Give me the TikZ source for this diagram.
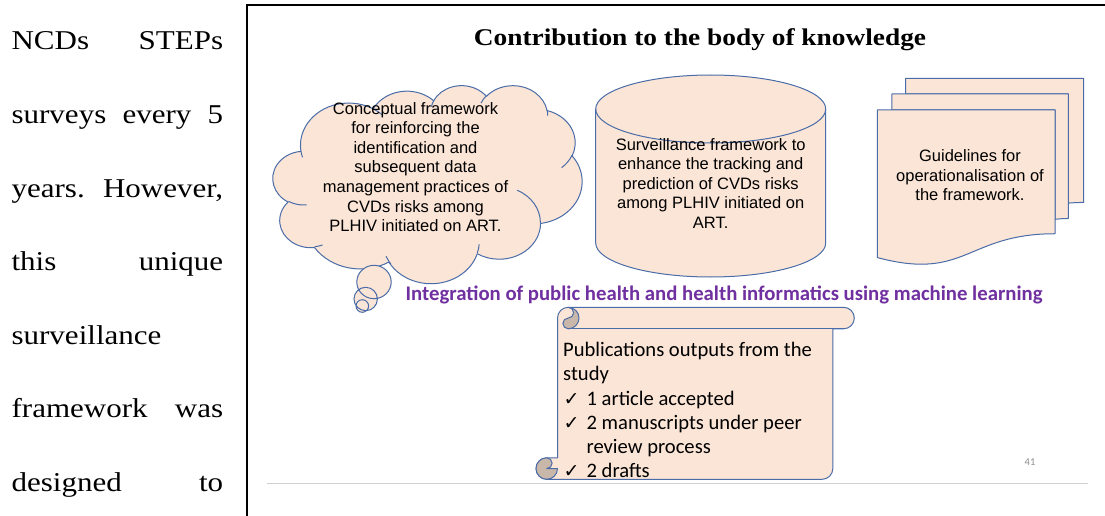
\documentclass[tikz,border=0pt]{standalone}
\usepackage{fontspec}
\setmainfont{Liberation Serif}
\newfontfamily\arialf{Liberation Sans}
\newfontfamily\calf{Carlito}
\newfontfamily\djv{DejaVu Sans}
\usepackage{graphicx}
\definecolor{shfill}{HTML}{FBE5D6}
\definecolor{shline}{HTML}{4A6CA8}
\definecolor{shdark}{HTML}{C9B7AA}
\definecolor{purp}{HTML}{7030A0}
\definecolor{rulegray}{HTML}{D0D0D0}
\definecolor{pgnum}{HTML}{8C8C8C}
\newcommand\ck{\makebox[23.4pt][l]{\hspace{0.5pt}{\djv\fontsize{19}{19}\selectfont ✓}}}
\tikzset{
  declare function={
    vp(\a,\b,\t)=atan2(\a*sin(\t),\b*cos(\t));
    dlt(\a,\b,\s,\w)=mod(vp(\a,\b,\s+\w)-vp(\a,\b,\s)+720,360)-(\w<0)*360;
  },
  ooarc/.style n args={4}{insert path={arc[x radius=#1, y radius=#2, start angle={vp(#1,#2,#3)}, delta angle={dlt(#1,#2,#3,#4)}]}},
  shp/.style={fill=shfill, draw=shline, line width=1pt, line join=round},
  shl/.style={draw=shline, line width=1pt},
  shtext/.style={font=\arialf\fontsize{16.5}{19.6}\selectfont, inner sep=0pt, anchor=base},
  leftline/.style={anchor=base west, inner sep=0pt, font=\fontsize{27.2}{30}\selectfont},
}
\begin{document}
\begin{tikzpicture}[x=1pt, y=-1pt]
\useasboundingbox (0,0) rectangle (1105,516);
\fill[white] (0,0) rectangle (1105,516);

% left column text
\node[leftline] (l1) at (11.4,50) {\scalebox{1.14}[1]{\makebox[185.6pt][l]{NCDs\hfill STEPs}}};
\node[leftline] (l2) at (11.4,123.5) {\scalebox{1.14}[1]{\makebox[185.6pt][l]{surveys\hfill every\hfill 5}}};
\node[leftline] (l3) at (11.4,197) {\scalebox{1.14}[1]{\makebox[185.6pt][l]{years.\hfill However,}}};
\node[leftline] (l4) at (11.4,270.5) {\scalebox{1.14}[1]{\makebox[185.6pt][l]{this\hfill unique}}};
\node[leftline] (l5) at (11.4,344) {\scalebox{1.14}[1]{surveillance}};
\node[leftline] (l6) at (11.4,417.5) {\scalebox{1.14}[1]{\makebox[185.6pt][l]{framework\hfill was}}};
\node[leftline] (l7) at (11.4,491) {\scalebox{1.14}[1]{\makebox[185.6pt][l]{designed\hfill to}}};

% slide frame
\draw[line width=2.2pt] (247,516) -- (247,5.3) -- (1105,5.3);
\draw[rulegray, line width=1.2pt] (267.3,483.3) -- (1088.3,483.3);

% title
\node[anchor=base, inner sep=0pt] (title) at (700,45.5) {\fontsize{24}{28}\selectfont\bfseries\scalebox{1.14}[1]{Contribution to the body of knowledge}};

% cloud callout
\fill[shfill] (374,282) circle[x radius=17.2, y radius=16.7] (365.7,299) circle[radius=11.7] (362.3,306) circle[radius=6.3];
\begin{scope}[shift={(273,85)}, x=0.0715278pt, y=-0.0458333pt]
  \path[shp] (390,1437)
    [ooarc={675.3}{919.0}{-190.4875}{123.7805}]
    [ooarc={533.3}{726.7}{-144.1024}{89.9452}]
    [ooarc={436.5}{594.5}{-145.8079}{99.7230}]
    [ooarc={485.7}{659.5}{-130.9861}{117.2417}]
    [ooarc={533.3}{727.3}{-78.7089}{109.0269}]
    [ooarc={677.5}{922.0}{-46.2673}{130.2690}]
    [ooarc={578.5}{786.7}{0.6250}{114.0333}]
    [ooarc={675.2}{921.5}{22.4636}{120.2935}]
    [ooarc={772.0}{1054.3}{66.2426}{71.33}]
    [ooarc={436.0}{591.8}{-274.9421}{146.7356}]
    [ooarc={434.5}{594.5}{-246.8285}{152.5189}]
    -- cycle;
  \path[shl] (469.3,2617.7) [ooarc={434.5}{594.5}{86.7420}{26.4295}]
    (692.8,3489.9) [ooarc={436.0}{591.8}{73.6105}{11.4475}]
    (1647.8,3909.0) [ooarc={675.2}{921.5}{137.6242}{14.0811}]
    (2882.7,3475.1) [ooarc={675.2}{921.5}{6.4533}{15.9984}]
    (3412.9,2295.4) [ooarc={578.5}{786.7}{-70.2924}{70.9174}]
    (4179.8,1535.4) [ooarc={533.3}{727.3}{30.3180}{27.7515}]
    (3832.4,542.6) [ooarc={485.7}{659.5}{-13.7443}{14.8589}]
    (2907.8,395.2) [ooarc={485.7}{659.5}{-149.1815}{18.1954}]
    (2214.1,472.0) [ooarc={436.5}{594.5}{-163.4943}{17.6864}]
    (1400.0,519.2) [ooarc={675.3}{919.0}{-66.7070}{12.3194}]
    (412.7,1578.9) [ooarc={675.3}{919.0}{157.6544}{11.8582}];
\end{scope}
\fill[shfill] (374,282) circle[x radius=17.2, y radius=16.7] (365.7,299) circle[radius=11.7] (362.3,306) circle[radius=6.3];
\draw[shl] (374,282) circle[x radius=17.2, y radius=16.7] (365.7,299) circle[radius=11.7] (362.3,306) circle[radius=6.3];

% cylinder
\path[shp] (595.7,109) -- (595.7,243) arc[start angle=180, end angle=0, x radius=115, y radius=34]
  -- (825.7,109) arc[start angle=0, end angle=-180, x radius=115, y radius=34] -- cycle;
\path[shl] (595.7,109) arc[start angle=180, end angle=0, x radius=115, y radius=34];

% multidocument
\path[shp] (905.70,93.95) -- (905.70,78.3) -- (1083.71,78.3) -- (1083.71,202.43)
  .. controls (1076.06,202.43) and (1068.42,203.08) .. (1068.42,203.08) -- (1068.42,93.95) -- cycle;
\path[shp] (891.94,110.0) -- (891.94,93.95) -- (1068.42,93.95) -- (1068.42,218.47)
  .. controls (1061.71,218.47) and (1054.99,219.34) .. (1054.99,219.34) -- (1054.99,110.0) -- cycle;
\path[shp] (877.3,257.55) .. controls (966.15,281.35) and (966.15,233.74) .. (1054.99,233.74)
  -- (1054.99,110.0) -- (877.3,110.0) -- cycle;

% horizontal scroll
\path[shp] (557.5,318.05) arc[start angle=180, end angle=270, radius=10.75]
  -- (843.55,307.3) arc[start angle=270, end angle=450, radius=10.75]
  -- (832.8,328.8) -- (832.8,468.55) arc[start angle=0, end angle=90, radius=10.75]
  -- (546.75,479.3) arc[start angle=90, end angle=270, radius=10.75]
  -- (557.5,457.8) -- cycle;
\path[shl] (568.25,328.8) -- (843.55,328.8);
\path[shp, fill=shdark] (568.25,307.3) arc[start angle=270, end angle=450, radius=10.75]
  arc[start angle=90, end angle=270, radius=5.375]
  arc[start angle=90, end angle=-90, radius=5.375] -- cycle;
\path[shp, fill=shdark] (557.5,468.55) arc[start angle=0, end angle=270, radius=10.75]
  arc[start angle=270, end angle=450, radius=5.375] -- cycle;

% texts in shapes
\node[shtext] (cloudtxt) at (415.5,114) {\begin{tabular}[t]{@{}c@{}}Conceptual framework\\ for reinforcing the\\ identification and\\ subsequent data\\ management practices of\\ CVDs risks among\\ PLHIV initiated on ART.\end{tabular}};
\node[shtext] (cantxt) at (710.7,150) {\begin{tabular}[t]{@{}c@{}}Surveillance framework to\\ enhance the tracking and\\ prediction of CVDs risks\\ among PLHIV initiated on\\ ART.\end{tabular}};
\node[shtext] (doctxt) at (970,161.7) {\begin{tabular}[t]{@{}c@{}}Guidelines for\\ operationalisation of\\ the framework.\end{tabular}};

\node[anchor=base west, inner sep=0pt, font=\calf\bfseries\fontsize{20.75}{24}\selectfont, text=purp] (integ) at (405.5,300.7) {Integration of public health and health informatics using machine learning};

\node[anchor=base west, inner sep=0pt, font=\calf\fontsize{20.6}{24.2}\selectfont] (pub) at (563,356.7) {\begin{tabular}[t]{@{}l@{}}Publications outputs from the\\ study\\ \ck 1 article accepted\\ \ck 2 manuscripts under peer\\ \hspace*{23.4pt}review process\\ \ck 2 drafts\end{tabular}};

\node[font=\calf\fontsize{10.5}{12}\selectfont, text=pgnum, inner sep=0pt] (pg) at (1030,461.7) {41};
\end{tikzpicture}
\end{document}
